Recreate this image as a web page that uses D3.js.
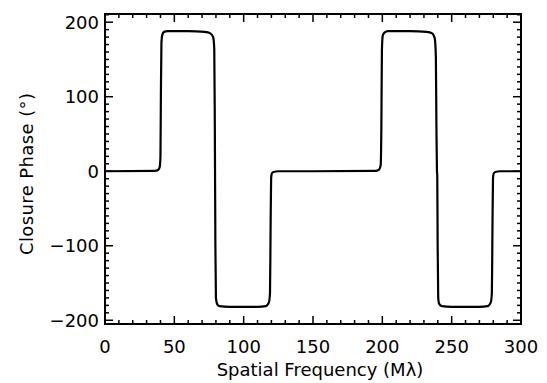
<!DOCTYPE html>
<html lang="en">
<head>
    <meta charset="UTF-8">
    <title>Closure Phase</title>
    <style>
        body { margin: 0; background: white; }
        svg text { font-family: "DejaVu Sans", sans-serif; fill: black; }
    </style>
    <script src="https://d3js.org/d3.v7.min.js"></script>
</head>
<body>
<div id="chart"></div>
<script>
    // spatial frequency (M lambda) and closure phase (deg)
    const freq = [0, 36, 38.5, 39.5, 40, 40.3, 40.7, 41.3, 42.5, 45, 60, 72, 76, 78, 78.8, 79.2, 79.6, 80, 80.8, 82.5, 90, 110, 116, 118.2, 119, 119.4, 119.8, 120.3, 121.5, 125,
                  150, 195, 197.5, 198.8, 199.3, 199.7, 200.3, 201.5, 204, 220, 232, 236, 237.8, 238.6, 239, 239.4, 239.6, 239.9, 240.3, 241, 243, 250, 270, 276, 278.2, 279, 279.4, 279.8, 280.3, 281.5, 285, 300];
    const phase = [0, 0.5, 2, 6, 20, 100, 172, 183, 187, 188, 188, 187, 185, 180, 164, 60, -100, -170, -178, -181, -182, -182, -181, -176, -163, -80, -10, -3, -1, 0,
                   0, 0.5, 2, 8, 60, 162, 182, 186, 188, 188, 187, 185, 178, 154, 60, 0, -5, -100, -170, -178, -181, -182, -182, -181, -176, -163, -80, -10, -3, -1, 0, 0];

    const xTicks = [0, 50, 100, 150, 200, 250, 300];
    const yTicks = [-200, -100, 0, 100, 200];
    const xDomain = [0, 300];
    const yDomain = [-205, 211];

    const width = 547, height = 383;
    const margin = { left: 105, right: 26, top: 14, bottom: 59 };

    const svg = d3.select("#chart").append("svg")
        .attr("width", width)
        .attr("height", height);

    const x = d3.scaleLinear().domain(xDomain).range([margin.left, width - margin.right]);
    const y = d3.scaleLinear().domain(yDomain).range([height - margin.bottom, margin.top]);

    const x0 = x.range()[0], x1 = x.range()[1];
    const y0 = y.range()[0], y1 = y.range()[1];

    // minor ticks every 10
    const xMinor = d3.range(0, 301, 10).filter(v => v % 50 !== 0);
    const yMinor = d3.range(-200, 211, 10).filter(v => v % 100 !== 0);

    const ticks = svg.append("g").attr("stroke", "black").attr("stroke-width", 1.5);
    xTicks.forEach(v => {
        ticks.append("line").attr("x1", x(v)).attr("x2", x(v)).attr("y1", y0).attr("y2", y0 - 8);
        ticks.append("line").attr("x1", x(v)).attr("x2", x(v)).attr("y1", y1).attr("y2", y1 + 8);
    });
    xMinor.forEach(v => {
        ticks.append("line").attr("x1", x(v)).attr("x2", x(v)).attr("y1", y0).attr("y2", y0 - 4);
        ticks.append("line").attr("x1", x(v)).attr("x2", x(v)).attr("y1", y1).attr("y2", y1 + 4);
    });
    yTicks.forEach(v => {
        ticks.append("line").attr("x1", x0).attr("x2", x0 + 8).attr("y1", y(v)).attr("y2", y(v));
        ticks.append("line").attr("x1", x1).attr("x2", x1 - 8).attr("y1", y(v)).attr("y2", y(v));
    });
    yMinor.forEach(v => {
        ticks.append("line").attr("x1", x0).attr("x2", x0 + 4).attr("y1", y(v)).attr("y2", y(v));
        ticks.append("line").attr("x1", x1).attr("x2", x1 - 4).attr("y1", y(v)).attr("y2", y(v));
    });

    // frame
    svg.append("rect")
        .attr("x", x0).attr("y", y1)
        .attr("width", x1 - x0).attr("height", y0 - y1)
        .attr("fill", "none").attr("stroke", "black").attr("stroke-width", 2);

    // tick labels
    svg.append("g").selectAll("text").data(xTicks).enter().append("text")
        .attr("x", d => x(d)).attr("y", 353)
        .attr("text-anchor", "middle").attr("font-size", 18)
        .text(d => d);
    svg.append("g").selectAll("text").data(yTicks).enter().append("text")
        .attr("x", x0 - 6).attr("y", d => y(d)).attr("dy", "0.36em")
        .attr("text-anchor", "end").attr("font-size", 18)
        .text(d => d < 0 ? "\u2212" + Math.abs(d) : d);

    // axis titles
    svg.append("text")
        .attr("x", 320).attr("y", 376)
        .attr("text-anchor", "middle").attr("font-size", 18)
        .text("Spatial Frequency (M\u03bb)");
    svg.append("text")
        .attr("transform", "translate(33,174) rotate(-90)")
        .attr("text-anchor", "middle").attr("font-size", 18)
        .attr("textLength", 162).attr("lengthAdjust", "spacing")
        .text("Closure Phase (\u00b0)");

    // curve
    const pts = freq.map((f, i) => [f, phase[i]]);
    const line = d3.line()
        .x(d => x(d[0]))
        .y(d => y(d[1]))
        .curve(d3.curveMonotoneX);
    svg.append("path")
        .datum(pts)
        .attr("d", line)
        .attr("fill", "none")
        .attr("stroke", "black")
        .attr("stroke-width", 2.2);
</script>
</body>
</html>
